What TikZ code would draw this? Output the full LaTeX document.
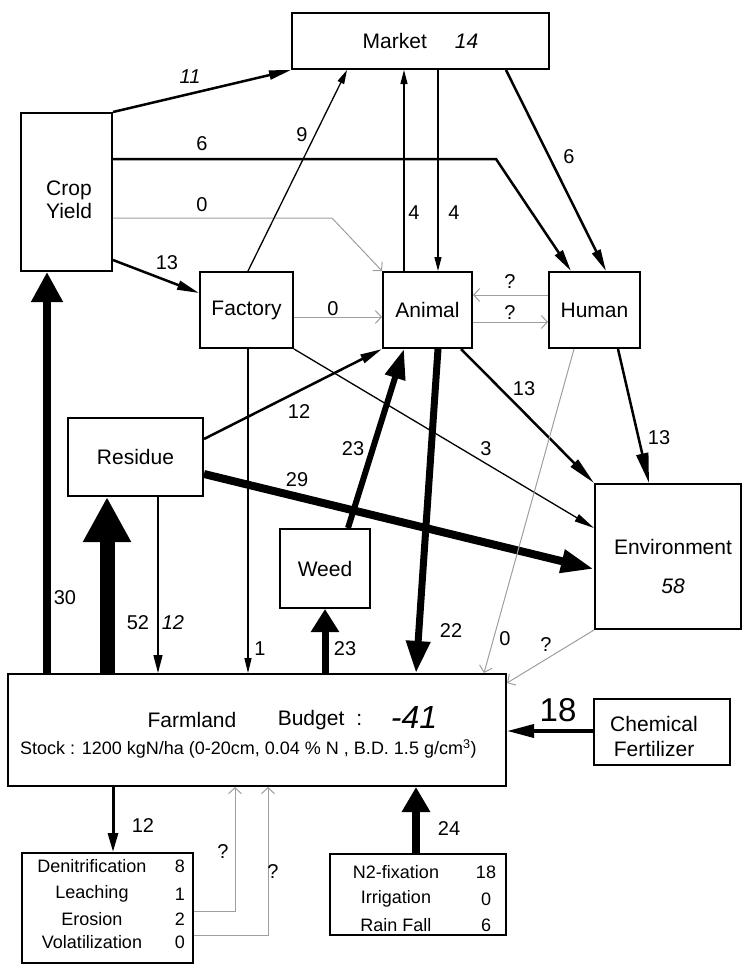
\documentclass[tikz,border=0pt]{standalone}
\usepackage{fontspec}
\setmainfont{Liberation Sans}
\usetikzlibrary{arrows.meta}
\begin{document}
\begin{tikzpicture}[x=1pt,y=-1pt,
  font=\fontsize{21}{25}\selectfont,
  box/.style={draw, line width=2pt, inner sep=0pt, align=center},
  lab/.style={font=\fontsize{20}{24}\selectfont, inner sep=0pt},
  small/.style={font=\fontsize{18}{22}\selectfont, inner sep=0pt},
  thinarr/.style={line width=1.3pt, -{Triangle[length=14pt,width=7pt]}},
  medarr/.style={line width=2.5pt, -{Triangle[length=22pt,width=9pt]}},
  grayarr/.style={draw=black!38, line width=1pt, -{Straight Barb[length=6pt,width=13pt]}},
  fat/.style n args={3}{line width=#1, -{Triangle[length=#2,width=#3]}}
]
\useasboundingbox (0,0) rectangle (742,964);

% ---------- boxes ----------
\node[box, minimum width=257pt, minimum height=56pt] (market) at (420.5,41) {Market\hspace{28pt}\textit{14}};
\node[box, minimum width=91pt, minimum height=158pt] (crop) at (66.5,192) {};
\node[align=center, font=\fontsize{21}{23}\selectfont] (cropt) at (69,200) {Crop\\Yield};
\node[box, minimum width=93pt, minimum height=76pt] (factory) at (246.5,310) {Factory};
\node[box, minimum width=89pt, minimum height=76pt] (animal) at (427.5,310) {Animal};
\node[box, minimum width=91pt, minimum height=76pt] (human) at (594.5,310) {Human};
\node[box, minimum width=135pt, minimum height=78pt] (residue) at (135.5,457) {Residue};
\node[box, minimum width=90pt, minimum height=79pt] (weed) at (325,568.5) {Weed};
\node[box, minimum width=146pt, minimum height=145pt] (env) at (668,556.5) {};
\node (envt) at (673,547) {Environment};
\node (env58) at (673,586) {\textit{58}};
\node[box, minimum width=498pt, minimum height=112pt] (farm) at (257,730) {};
\node (farmt) at (192,720) {Farmland};
\node (budt) at (320,720) {Budget\hspace{12pt}:};
\node[font=\fontsize{32}{36}\selectfont] (budv) at (414,717) {\textit{-41}};
\node[small, anchor=west] (stock) at (20,749) {Stock : 1200 kgN/ha (0-20cm, 0.04 \% N , B.D. 1.5 g/cm\textsuperscript{3})};
\node[box, minimum width=136pt, minimum height=66pt] (chem) at (662,732) {};
\node[align=center, font=\fontsize{21}{25}\selectfont] (chemt) at (654,736) {Chemical\\Fertilizer};
\node[box, minimum width=171pt, minimum height=110pt] (loss) at (107.5,908) {};
\node[small] (l1n) at (92,866) {Denitrification};
\node[small] (l1v) at (180,866) {8};
\node[small] (l2n) at (92,894) {Leaching};
\node[small] (l2v) at (180,894) {1};
\node[small] (l3n) at (92,919) {Erosion};
\node[small] (l3v) at (180,919) {2};
\node[small] (l4n) at (92,942) {Volatilization};
\node[small] (l4v) at (180,942) {0};
\node[box, minimum width=176pt, minimum height=81pt] (input) at (418,894.5) {};
\node[small] (i1n) at (396,872) {N2-fixation};
\node[small] (i1v) at (486,872) {18};
\node[small] (i2n) at (396,899) {Irrigation};
\node[small] (i2v) at (486,899) {0};
\node[small] (i3n) at (396,925) {Rain Fall};
\node[small] (i3v) at (486,925) {6};

% ---------- bend points ----------
\coordinate (b6) at (496,159);
\coordinate (b0) at (332,218);
\coordinate (bq1) at (235,911);
\coordinate (bq2) at (268,935);

% ---------- connectors ----------
\draw[medarr] (crop.north east) -- (market.south west);
\draw[medarr] (crop.east |- 0,159) -- (b6) -- (human.north -| 571,0);
\draw[grayarr] (crop.east |- 0,218) -- (b0) -- (animal.north west);
\draw[medarr] (crop.south east |- 0,260) -- (factory.west |- 0,293);
\draw[thinarr] (factory.north -| 248,0) -- (market.south -| 347,0);
\draw[thinarr] (animal.north -| 404,0) -- (market.south -| 404,0);
\draw[thinarr] (market.south -| 438,0) -- (animal.north -| 438,0);
\draw[medarr] (market.south -| 506,0) -- (human.north -| 606,0);
\draw[grayarr] (factory.east |- 0,317) -- (animal.west |- 0,317);
\draw[grayarr] (human.west |- 0,295) -- (animal.east |- 0,295);
\draw[grayarr] (animal.east |- 0,322) -- (human.west |- 0,322);
\draw[medarr] (residue.east |- 0,439) -- (animal.south west);
\draw[thinarr, -{Triangle[length=20pt,width=8pt]}] (factory.south east) -- (env.west |- 0,528);
\draw[fat={8pt}{33pt}{22pt}] (residue.east |- 0,474) -- (env.west |- 0,569);
\draw[fat={6pt}{30pt}{20pt}] (weed.north -| 348,0) -- (animal.south -| 404,0);
\draw[fat={7pt}{32pt}{23pt}] (animal.south -| 438,0) -- (farm.north -| 416,0);
\draw[medarr, -{Triangle[length=28pt,width=10pt]}] (animal.south -| 461,0) -- (env.north west);
\draw[medarr, -{Triangle[length=30pt,width=12pt]}] (human.south -| 618,0) -- (env.north -| 649,0);
\draw[grayarr] (human.south -| 574,0) -- (farm.north -| 484,0);
\draw[grayarr] (env.south west) -- (farm.east |- 0,683);
\draw[fat={8pt}{30pt}{30pt}] (farm.north -| 47,0) -- (crop.south -| 47,0);
\draw[fat={15pt}{45pt}{45pt}] (farm.north -| 107,0) -- (residue.south -| 107,0);
\draw[thinarr, -{Triangle[length=18pt,width=9pt]}] (residue.south -| 158,0) -- (farm.north -| 158,0);
\draw[thinarr, -{Triangle[length=15pt,width=7pt]}] (factory.south -| 248,0) -- (farm.north -| 248,0);
\draw[fat={7pt}{23pt}{27pt}] (farm.north -| 325,0) -- (weed.south -| 325,0);
\draw[fat={3.5pt}{27pt}{13pt}] (chem.west |- 0,731) -- (farm.east |- 0,731);
\draw[fat={3pt}{19pt}{10pt}] (farm.south -| 113,0) -- (loss.north -| 113,0);
\draw[grayarr] (loss.east |- bq1) -- (bq1) -- (farm.south -| bq1);
\draw[grayarr] (loss.east |- bq2) -- (bq2) -- (farm.south -| bq2);
\draw[fat={8pt}{25pt}{27pt}] (input.north -| 416,0) -- (farm.south -| 416,0);

% ---------- labels ----------
\node[lab] (t11) at (190,77) {\textit{11}};
\node[lab] (t6a) at (202,144) {6};
\node[lab] (t0a) at (202,205) {0};
\node[lab] (t13a) at (167,263) {13};
\node[lab] (t9) at (302,135) {9};
\node[lab] (t4a) at (414,213) {4};
\node[lab] (t4b) at (454,213) {4};
\node[lab] (t6b) at (569,157) {6};
\node[lab] (t0b) at (333,309) {0};
\node[lab] (tq1) at (510,282) {?};
\node[lab] (tq2) at (510,313) {?};
\node[lab] (t12a) at (299,412) {12};
\node[lab] (t3) at (486,449) {3};
\node[lab] (t29) at (297,480) {29};
\node[lab] (t23a) at (353,449) {23};
\node[lab] (t13b) at (524,389) {13};
\node[lab] (t13c) at (659,438) {13};
\node[lab] (t22) at (451,631) {22};
\node[lab] (t0c) at (505,639) {0};
\node[lab] (tq3) at (546,645) {?};
\node[lab] (t30) at (65,598) {30};
\node[lab] (t52) at (138,623) {52};
\node[lab] (t12b) at (173,623) {\textit{12}};
\node[lab] (t1) at (260,649) {1};
\node[lab] (t23b) at (345,649) {23};
\node[lab, font=\fontsize{33}{38}\selectfont] (t18) at (558,710) {18};
\node[lab] (t12c) at (143,826) {12};
\node[lab] (tq4) at (223,852) {?};
\node[lab] (tq5) at (273,872) {?};
\node[lab] (t24) at (449,829) {24};
\end{tikzpicture}
\end{document}
